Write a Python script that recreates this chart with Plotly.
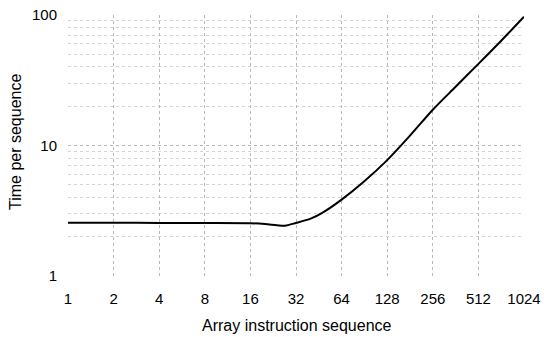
import plotly.graph_objects as go

seq_len = [1, 2, 4, 8, 16, 20, 24, 27, 32, 40, 48, 64, 90, 128, 181, 256, 362, 512, 724, 1024]
time_per_seq = [2.56, 2.56, 2.55, 2.55, 2.54, 2.50, 2.45, 2.43, 2.55, 2.75, 3.06, 3.85, 5.3, 7.73, 11.9, 18.8, 28.2, 42.2, 63.5, 97.0]

x_ticks = [1, 2, 4, 8, 16, 32, 64, 128, 256, 512, 1024]
y_ticks = [1, 10, 100]
y_minor = [2, 3, 4, 5, 6, 7, 8, 9, 20, 30, 40, 50, 60, 70, 80, 90]

fig = go.Figure()
fig.add_trace(go.Scatter(x=seq_len, y=time_per_seq, mode="lines",
                         line=dict(color="black", width=2, shape="spline", smoothing=0.8),
                         showlegend=False))

font = dict(family="Liberation Sans, Arial, sans-serif", size=15, color="black")
title_font = dict(family="Liberation Sans, Arial, sans-serif", size=16, color="black")
fig.update_layout(
    width=544, height=337,
    margin=dict(l=68, r=20, t=15, b=61),
    paper_bgcolor="white", plot_bgcolor="white",
    font=font,
    xaxis=dict(type="log", range=[0, 3.0103], tickvals=x_ticks,
               ticktext=[str(v) for v in x_ticks], automargin=False,
               showgrid=True, gridcolor="#b8b8b8", griddash="dot", gridwidth=1,
               zeroline=False, showline=False, ticks="", ticklabelstandoff=12),
    yaxis=dict(type="log", range=[0, 2], tickvals=y_ticks,
               ticktext=[str(v) for v in y_ticks], automargin=False,
               showgrid=True, gridcolor="#b8b8b8", griddash="dot", gridwidth=1,
               minor=dict(tickvals=y_minor,
                          showgrid=True, gridcolor="#d4d4d4", griddash="dot", gridwidth=1),
               zeroline=False, showline=False, ticks="", ticklabelstandoff=10),
    annotations=[
        dict(text="Array instruction sequence", xref="paper", yref="paper",
             x=(296.7 - 68) / 456, y=-(325 - 276) / 261, xanchor="center", yanchor="middle",
             showarrow=False, font=title_font),
        dict(text="Time per sequence", xref="paper", yref="paper",
             x=-(68 - 15) / 456, y=(276 - 142) / 261, xanchor="center", yanchor="middle",
             textangle=-90, showarrow=False, font=title_font),
    ],
)
fig.write_html("out.html", config={"displayModeBar": False},
               post_script="document.body.style.margin='0';document.body.style.overflow='hidden';")
